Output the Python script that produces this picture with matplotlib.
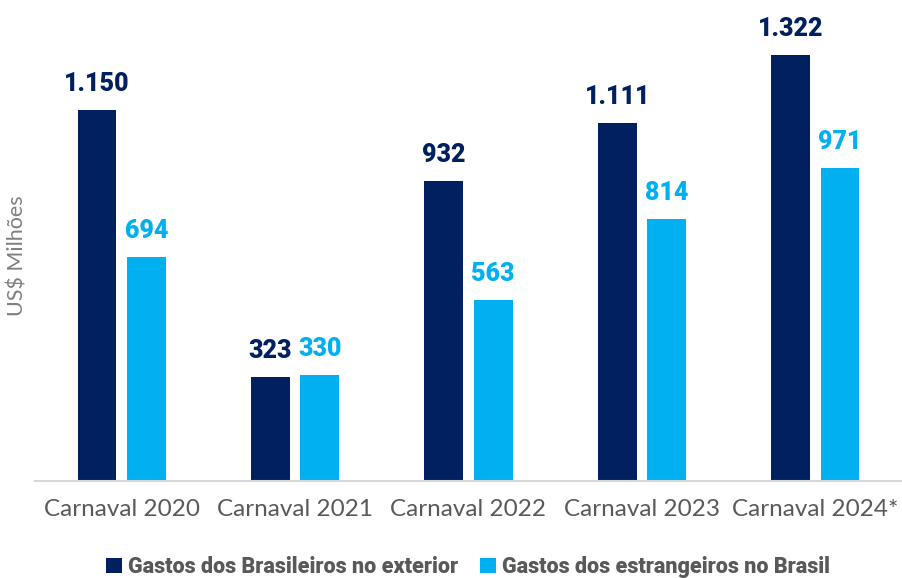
import numpy as np
import matplotlib
matplotlib.use("Agg")
from matplotlib import pyplot as plt

categories = ["Carnaval 2020", "Carnaval 2021", "Carnaval 2022", "Carnaval 2023", "Carnaval 2024*"]
brasileiros_exterior = [1150, 323, 932, 1111, 1322]
estrangeiros_brasil = [694, 330, 563, 814, 971]
series_names = ["Gastos dos Brasileiros no exterior", "Gastos dos estrangeiros no Brasil"]

dark = "#002060"
light = "#00B0F0"
grey = "#595959"

plt.rcParams['font.family'] = ['Lato', 'DejaVu Sans']
heavy = ['Roboto', 'DejaVu Sans']

fig = plt.figure(figsize=(9.02, 5.78), dpi=100)
ax = fig.add_axes([35 / 902, 97 / 578, 867 / 902, 477 / 578])

x = np.arange(len(categories))
w = 0.224
off = 0.142
b1 = ax.bar(x - off, brasileiros_exterior, w, color=dark, label=series_names[0])
b2 = ax.bar(x + off, estrangeiros_brasil, w, color=light, label=series_names[1])

def fmt(v):
    return f"{v:,}".replace(",", ".")

for bars, vals, col in [(b1, brasileiros_exterior, dark), (b2, estrangeiros_brasil, light)]:
    for r, v in zip(bars, vals):
        ax.annotate(fmt(v), (r.get_x() + r.get_width() / 2, v), xytext=(0, 10),
                    textcoords="offset points", ha="center", va="bottom",
                    fontsize=18, fontweight="black", family=heavy, color=col,
                    annotation_clip=False)

ax.set_xlim(-0.5, 4.5)
ax.set_ylim(0, 1480)
ax.set_xticks(x)
ax.set_xticklabels(categories, fontsize=17.5, color=grey)
ax.tick_params(axis="x", length=0, pad=13)
ax.set_yticks([])
for s in ["top", "right", "left"]:
    ax.spines[s].set_visible(False)
ax.spines["bottom"].set_color("#d9d9d9")
ax.spines["bottom"].set_linewidth(1.5)

fig.text(18 / 902, 1 - 256 / 578, "US$ Milhões", rotation=90, ha="center", va="center",
         fontsize=15.5, color="#7f7f7f")

leg = fig.legend(handles=[b1, b2], loc="center", bbox_to_anchor=(468 / 902, 1 - 567 / 578),
                 ncol=2, frameon=False, handlelength=0.75, handleheight=0.75,
                 handletextpad=0.3, columnspacing=1.0,
                 prop={"size": 15.5, "weight": "black", "family": heavy})
for t in leg.get_texts():
    t.set_color(grey)

fig.savefig("out.png", dpi=100)
